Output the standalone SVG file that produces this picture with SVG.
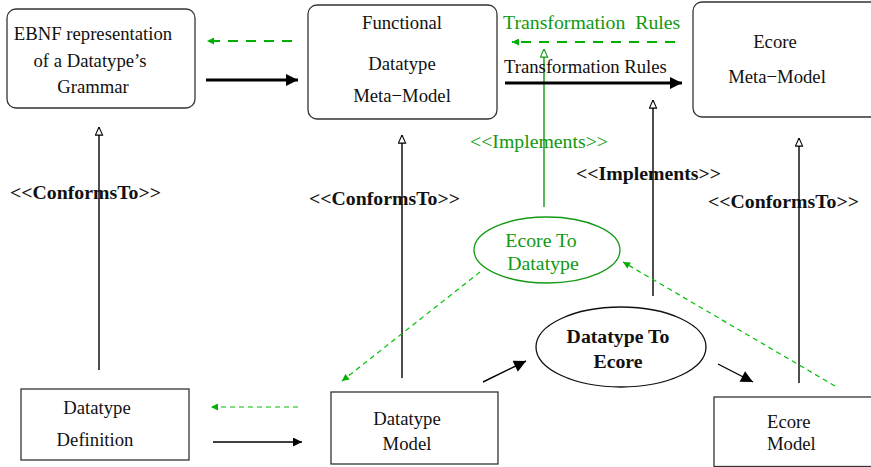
<svg xmlns="http://www.w3.org/2000/svg" width="871" height="467" viewBox="0 0 871 467">
<style>
.b{font-weight:bold;font-size:19.8px}
.g{fill:#119911;font-size:19.8px}
.box{fill:#fff;stroke:#333;stroke-width:1.3}
.ln{fill:none;stroke:#000;stroke-width:1.4}
.thick{fill:none;stroke:#000;stroke-width:3.2}
.gd{fill:none;stroke:#00b000;stroke-width:2.2;stroke-dasharray:10 8}
.gt{fill:none;stroke:#00c000;stroke-width:1.2;stroke-dasharray:5 4}
</style>
<defs>
<marker id="hb" viewBox="0 0 10 10" refX="10" refY="5" markerWidth="10" markerHeight="9" markerUnits="userSpaceOnUse" orient="auto"><path d="M1,1 L10,5 L1,9 z" fill="#fff" stroke="#000" stroke-width="1.2"/></marker>
<marker id="hg" viewBox="0 0 10 10" refX="10" refY="5" markerWidth="9" markerHeight="9" markerUnits="userSpaceOnUse" orient="auto"><path d="M1,1 L10,5 L1,9 z" fill="#fff" stroke="#119911" stroke-width="1.2"/></marker>
<marker id="fb" viewBox="0 0 10 10" refX="10" refY="5" markerWidth="14" markerHeight="12" markerUnits="userSpaceOnUse" orient="auto"><path d="M0,0 L10,5 L0,10 z" fill="#000"/></marker>
<marker id="fbs" viewBox="0 0 10 10" refX="10" refY="5" markerWidth="10" markerHeight="9" markerUnits="userSpaceOnUse" orient="auto"><path d="M0,0 L10,5 L0,10 z" fill="#000"/></marker>
<marker id="fg" viewBox="0 0 10 10" refX="10" refY="5" markerWidth="8" markerHeight="7" markerUnits="userSpaceOnUse" orient="auto"><path d="M0,0 L10,5 L0,10 z" fill="#00b000"/></marker>
</defs>
<g font-family="Liberation Serif, DejaVu Serif, serif" font-size="18.7" fill="#111">
<g id="connectors">
<line class="ln" x1="99" y1="370" x2="99" y2="127" marker-end="url(#hb)"/>
<line class="ln" x1="402" y1="378" x2="402" y2="135" marker-end="url(#hb)"/>
<line class="ln" x1="799" y1="383" x2="799" y2="138" marker-end="url(#hb)"/>
<line class="ln" x1="653" y1="296" x2="653" y2="100" marker-end="url(#hb)"/>
<line class="ln" x1="544" y1="207" x2="544" y2="49" style="stroke:#119911" marker-end="url(#hg)"/>
<line class="gd" x1="292" y1="41" x2="207" y2="41" marker-end="url(#fg)"/>
<line class="thick" x1="206" y1="80" x2="298" y2="80" marker-end="url(#fb)"/>
<line class="gd" x1="675" y1="42" x2="512" y2="42" marker-end="url(#fg)"/>
<line class="thick" x1="505" y1="83" x2="682" y2="83" marker-end="url(#fb)"/>
<line class="gt" x1="480" y1="272" x2="342" y2="381" marker-end="url(#fg)"/>
<line class="gt" x1="835" y1="386" x2="623" y2="262" marker-end="url(#fg)"/>
<line class="ln" x1="483" y1="382" x2="526" y2="361" marker-end="url(#fb)"/>
<line class="ln" x1="718" y1="364" x2="753" y2="382" marker-end="url(#fb)"/>
<line class="gt" x1="298" y1="407" x2="211" y2="407" marker-end="url(#fg)"/>
<line class="ln" x1="213" y1="442" x2="302" y2="442" marker-end="url(#fbs)"/>
<text x="10" y="199" class="b">&lt;&lt;ConformsTo&gt;&gt;</text>
<text x="309" y="205" class="b">&lt;&lt;ConformsTo&gt;&gt;</text>
<text x="708" y="208" class="b">&lt;&lt;ConformsTo&gt;&gt;</text>
<text x="576" y="180" class="b">&lt;&lt;Implements&gt;&gt;</text>
<text x="470" y="148" class="g">&lt;&lt;Implements&gt;&gt;</text>
<text x="503" y="29" class="g" xml:space="preserve">Transformation  Rules</text>
<text x="504" y="73">Transformation Rules</text>
</g>

<g id="ebnf">
<rect class="box" x="7" y="9" width="188" height="99" rx="9"/>
<text x="93" y="40" text-anchor="middle">EBNF representation</text>
<text x="90" y="67" text-anchor="middle">of a Datatype’s</text>
<text x="93" y="93" text-anchor="middle">Grammar</text>
</g>

<g id="functional">
<rect class="box" x="308" y="5" width="189" height="114" rx="9"/>
<text x="402" y="29" text-anchor="middle">Functional</text>
<text x="402" y="70" text-anchor="middle">Datatype</text>
<text x="402" y="102" text-anchor="middle">Meta−Model</text>
</g>

<g id="ecoremeta">
<rect class="box" x="693" y="2" width="200" height="115" rx="9"/>
<text x="775" y="48" text-anchor="middle">Ecore</text>
<text x="777" y="83" text-anchor="middle">Meta−Model</text>
</g>

<g id="ecoretodatatype">
<ellipse cx="547" cy="250" rx="73" ry="33" fill="#fff" stroke="#119911" stroke-width="1.3"/>
<text x="541" y="247" text-anchor="middle" class="g">Ecore To</text>
<text x="543" y="270" text-anchor="middle" class="g">Datatype</text>
</g>

<g id="datatypetoecore">
<ellipse cx="621" cy="347" rx="85" ry="40" fill="#fff" stroke="#111" stroke-width="1.3"/>
<text x="618" y="343" text-anchor="middle" class="b">Datatype To</text>
<text x="618" y="368" text-anchor="middle" class="b">Ecore</text>
</g>

<g id="datatypedefinition">
<rect class="box" x="21" y="389" width="168" height="71"/>
<text x="97" y="414" text-anchor="middle">Datatype</text>
<text x="95" y="446" text-anchor="middle">Definition</text>
</g>

<g id="datatypemodel">
<rect class="box" x="331" y="392" width="167" height="72"/>
<text x="407" y="425" text-anchor="middle">Datatype</text>
<text x="407" y="450" text-anchor="middle">Model</text>
</g>

<g id="ecoremodel">
<rect class="box" x="714" y="397" width="200" height="69.5"/>
<text x="767" y="428">Ecore</text>
<text x="767" y="450">Model</text>
</g>
</g>
</svg>
